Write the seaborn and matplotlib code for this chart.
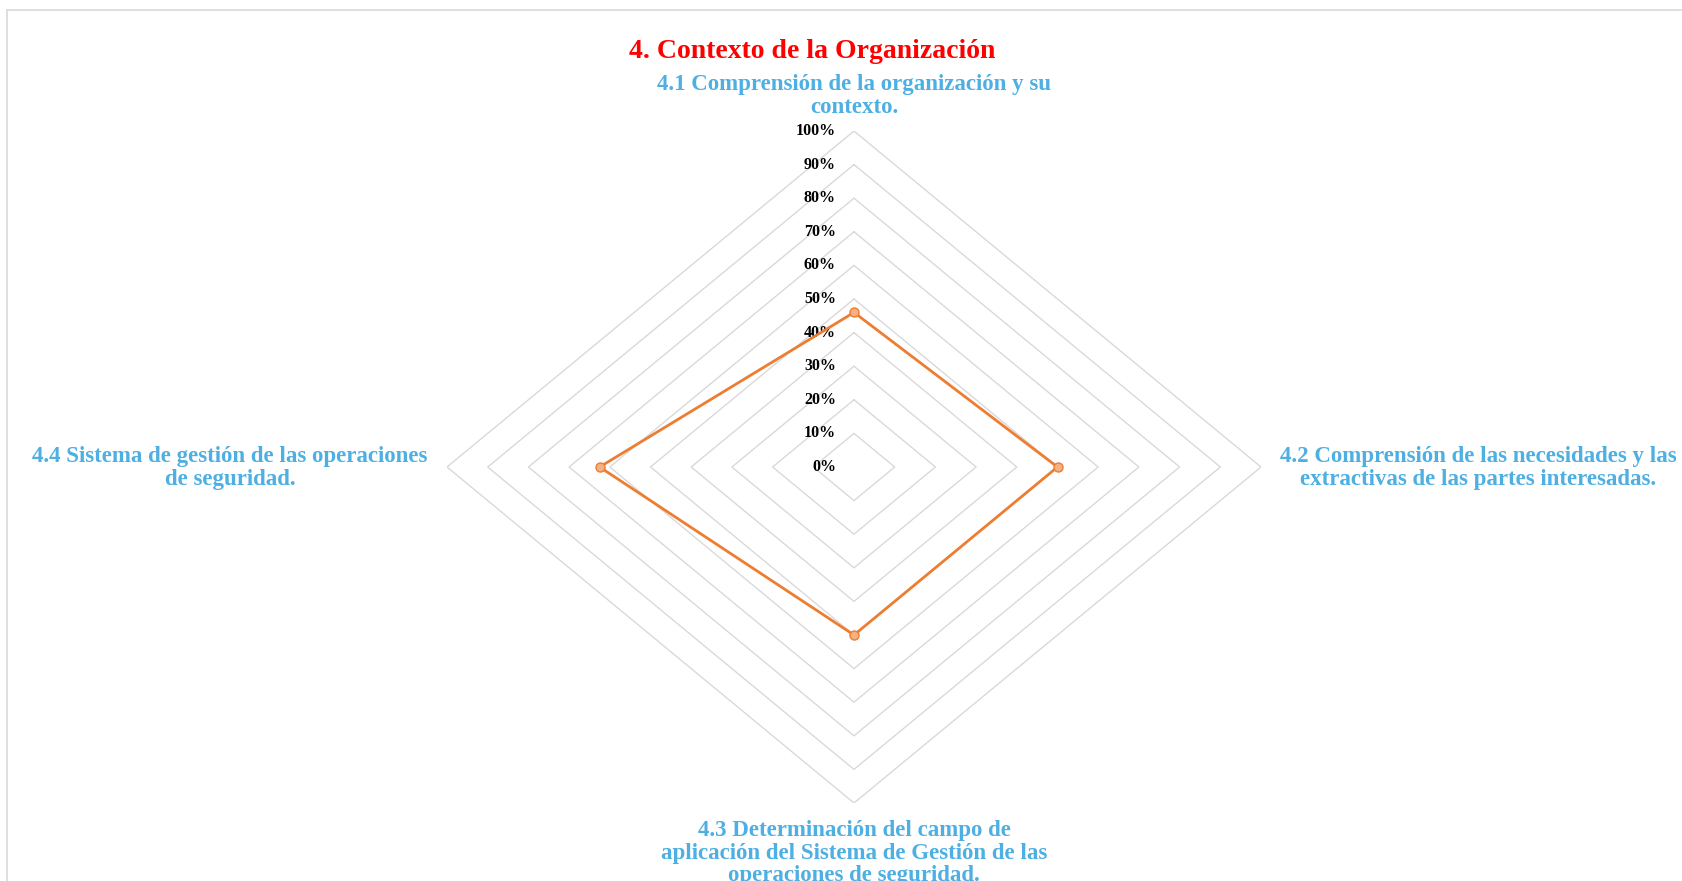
import numpy as np
import pandas as pd
import matplotlib
matplotlib.use('Agg')
import matplotlib.pyplot as plt
from matplotlib.lines import Line2D
import seaborn as sns

# data

categories = [
    '4.1 Comprensión de la organización y su\ncontexto.',
    '4.2 Comprensión de las necesidades y las\nextractivas de las partes interesadas.',
    '4.3 Determinación del campo de\naplicación del Sistema de Gestión de las\noperaciones de seguridad.',
    '4.4 Sistema de gestión de las operaciones\nde seguridad.',
]
values = [0.46, 0.50, 0.50, 0.625]
ring_levels = [0.0, 0.1, 0.2, 0.3, 0.4, 0.5, 0.6, 0.7, 0.8, 0.9, 1.0]
ring_labels = ['0%', '10%', '20%', '30%', '40%', '50%', '60%', '70%', '80%', '90%', '100%']
title = '4. Contexto de la Organización'

# styling

sns.set_style('white')
plt.rcParams['font.family'] = ['Liberation Serif', 'DejaVu Serif']

grid_color = '#D9D9D9'
line_color = '#ED7D31'
label_color = '#4DAFE2'

W, H = 1682, 881
fig = plt.figure(figsize=(W / 100, H / 100), dpi=100)

# axes placed so the 100% diamond lands where it is in the original
cx, cy = 854, 467
rx, ry = 407, 336
ax = fig.add_axes([(cx - rx) / W, (H - cy - ry) / H, 2 * rx / W, 2 * ry / H])
ax.set_xlim(-1, 1)
ax.set_ylim(-1, 1)
ax.axis('off')

# spokes go clockwise from the top
angles = np.arange(len(categories)) * 2 * np.pi / len(categories)

# rings
for lev in ring_levels[1:]:
    rx_ = lev * np.sin(np.append(angles, angles[0]))
    ry_ = lev * np.cos(np.append(angles, angles[0]))
    ax.plot(rx_, ry_, color=grid_color, lw=1.0, zorder=1)

# ring labels along the top spoke
for lev, lab in zip(ring_levels, ring_labels):
    ax.annotate(lab, (0, lev), xytext=(-13, 0), textcoords='offset points',
                ha='right', va='center', fontsize=11.5, fontweight='bold', color='black')

# series polygon
df = pd.DataFrame({
    'x': np.array(values) * np.sin(angles),
    'y': np.array(values) * np.cos(angles),
})
closed = pd.concat([df, df.iloc[:1]], ignore_index=True)
sns.lineplot(data=closed, x='x', y='y', sort=False, estimator=None,
             color=line_color, lw=2.0, ax=ax, zorder=3)
ax.plot(df['x'], df['y'], 'o', ms=6.5, mfc='#F4B183', mec=line_color, mew=1.0, zorder=4)
ax.set_xlim(-1, 1)
ax.set_ylim(-1, 1)

# category labels (the bottom one runs off the lower edge, as in the original)
label_pos = [(854, 96), (1478, 468), (854, 853), (230, 468)]
for text, (px, py) in zip(categories, label_pos):
    fig.text(px / W, 1 - py / H, text, ha='center', va='center', fontsize=16.5,
             fontweight='bold', color=label_color, linespacing=1.12)

fig.text(812 / W, 1 - 51 / H, title, ha='center', va='center', fontsize=20,
         fontweight='bold', color='#FF0000')

# chart frame (top and left edges visible)
fig.add_artist(Line2D([7 / W, 1], [1 - 9.5 / H, 1 - 9.5 / H], color=grid_color, lw=1.2))
fig.add_artist(Line2D([7 / W, 7 / W], [0, 1 - 9.5 / H], color=grid_color, lw=1.2))

fig.savefig('out.png', dpi=100)
